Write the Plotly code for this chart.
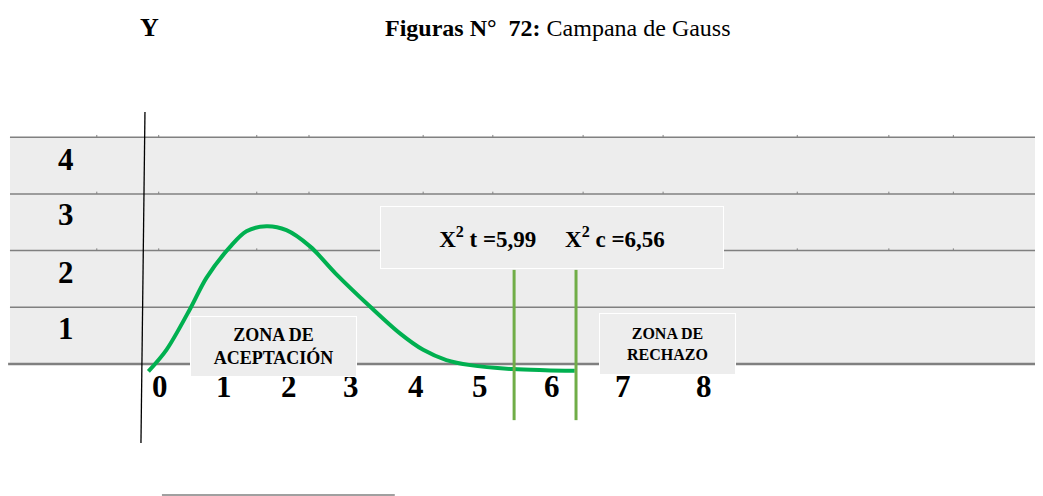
import plotly.graph_objects as go

# curve (drawing units: one x step per tick label, one y step per band)
curve_x = [-0.18, 0.10, 0.47, 0.72, 1.09, 1.34, 1.65, 1.96, 2.33, 2.72, 3.26, 3.72,
           4.08, 4.44, 4.81, 5.47, 5.97, 6.43]
curve_y = [-0.13, 0.25, 0.98, 1.52, 2.07, 2.34, 2.43, 2.36, 2.07, 1.60, 1.01, 0.54,
           0.25, 0.07, -0.02, -0.09, -0.11, -0.12]

x_labels = ["0", "1", "2", "3", "4", "5", "6", "7", "8"]
x_label_pos = [0.0, 0.99, 2.0, 2.96, 3.97, 4.96, 6.08, 7.18, 8.43]
y_labels = ["1", "2", "3", "4"]
y_label_pos = [0.63, 1.62, 2.63, 3.60]
grid_levels = [0, 1, 2, 3, 4]

chi_t, chi_c = "5,99", "6,56"
chi_line_pos = [5.49, 6.45]

SERIF = "Liberation Serif, Times New Roman, serif"
GREEN = "#00B050"
LINE_GREEN = "#70AD47"
BAND = "#EDEDED"

fig = go.Figure()

# gray band and horizontal rules
fig.add_shape(type="rect", x0=-2.326, x1=13.643, y0=0, y1=4, fillcolor=BAND,
              line_width=0, layer="below")
for lvl in grid_levels:
    fig.add_shape(type="line", x0=-2.355 if lvl == 0 else -2.326, x1=13.643, y0=lvl, y1=lvl,
                  line=dict(color="#808080", width=2.5 if lvl == 0 else 1.5), layer="below")
# tiny table-cell marks on the upper rules
for mx in [-0.98, -0.02, 1.50, 2.31, 4.08, 5.16, 6.56, 7.80, 9.88, 11.30, 12.30]:
    for lvl in grid_levels[2:]:
        fig.add_shape(type="line", x0=mx, x1=mx, y0=lvl, y1=lvl + 0.04,
                      line=dict(color="#808080", width=1), layer="below")

# slanted hand-drawn y axis
fig.add_shape(type="line", x0=-0.233, y0=4.444, x1=-0.295, y1=-1.393,
              line=dict(color="black", width=1.3))

fig.add_trace(go.Scatter(x=curve_x, y=curve_y, mode="lines",
                         line=dict(color=GREEN, width=4, shape="spline", smoothing=0.9),
                         hoverinfo="skip"))

for xv in chi_line_pos:
    fig.add_trace(go.Scatter(x=[xv, xv], y=[1.66, -0.99], mode="lines",
                             line=dict(color=LINE_GREEN, width=3), hoverinfo="skip"))

# tick labels
for t, xv in zip(x_labels, x_label_pos):
    fig.add_annotation(x=xv, y=-0.40, text=f"<b>{t}</b>", showarrow=False,
                       xanchor="center", yanchor="middle",
                       font=dict(family=SERIF, size=31, color="black"))
for t, yv in zip(y_labels, y_label_pos):
    fig.add_annotation(x=-1.46, y=yv, text=f"<b>{t}</b>", showarrow=False,
                       xanchor="center", yanchor="middle",
                       font=dict(family=SERIF, size=31, color="black"))

# text boxes (drawn after the tick labels so they cover them)
boxes = [
    (1.760, 0.309, 165, 59, "<b>ZONA DE<br>ACEPTACIÓN</b>", 18),
    (7.868, 0.353, 135, 60, "<b>ZONA DE<br>RECHAZO</b>", 16),
    (6.078, 2.231, 342, 61,
     f"<b>X<sup>2</sup> t ={chi_t}" + "\u00a0" * 5 + f"X<sup>2</sup> c ={chi_c}</b>", 23),
]
for bx, by, w, h, txt, fs in boxes:
    fig.add_annotation(x=bx, y=by, text=txt, showarrow=False, width=w, height=h,
                       xanchor="center", yanchor="middle",
                       bgcolor=BAND, bordercolor="white", borderwidth=1, borderpad=0,
                       align="center", valign="middle",
                       font=dict(family=SERIF, size=fs, color="black"))

fig.add_annotation(xref="paper", yref="paper", x=0.1352, y=0.9597, text="<b>Y</b>",
                   xanchor="center", yanchor="middle", showarrow=False,
                   font=dict(family=SERIF, size=26, color="black"))
fig.add_annotation(xref="paper", yref="paper", x=0.3595, y=0.9597, xanchor="left",
                   yanchor="middle",
                   text="<b>Figuras N°  72:</b> Campana de Gauss", showarrow=False,
                   font=dict(family=SERIF, size=24, color="black"))

# faint rule at the bottom
fig.add_shape(type="line", x0=0.03, x1=3.64, y0=-2.31, y1=-2.31,
              line=dict(color="#A0A0A0", width=2))

# ranges account for the 8px page margin around the plot div
fig.update_xaxes(range=[-2.3566, 13.814], visible=False, fixedrange=True)
fig.update_yaxes(range=[-2.469, 6.279], visible=False, fixedrange=True)
fig.update_layout(width=1043, height=496, margin=dict(l=0, r=0, t=0, b=0),
                  paper_bgcolor="white", plot_bgcolor="white", showlegend=False)

fig.write_html("out.html")
